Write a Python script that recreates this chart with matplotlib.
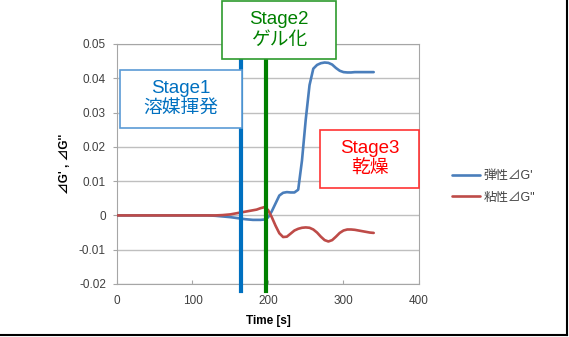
import matplotlib
matplotlib.use("Agg")
import matplotlib.pyplot as plt
from matplotlib.patches import Rectangle
from matplotlib.lines import Line2D

plt.rcParams['font.family'] = ['Liberation Sans', 'Noto Sans CJK JP', 'DejaVu Sans']

# data
time = [0, 10, 20, 30, 40, 50, 60, 70, 80, 90, 100, 110, 120, 130, 140, 150, 160, 170, 180,
        185, 190, 195, 200, 205, 210, 215, 220, 225, 230, 235, 240, 245, 250, 255, 260,
        265, 270, 275, 280, 285, 290, 295, 300, 305, 310, 315, 320, 325, 330, 335, 340]
g_elastic = [0, 0, 0, 0, 0, 0, 0, 0, 0, 0, 0, 0, 0, -0.0001, -0.0003, -0.0005, -0.0008, -0.0011, -0.0013,
             -0.0013, -0.0013, -0.0012, -0.0006, 0.0012, 0.0035, 0.0058, 0.0066, 0.0068, 0.0067,
             0.0067, 0.0075, 0.016, 0.028, 0.038, 0.0428, 0.0439, 0.0444, 0.0446, 0.0445,
             0.0440, 0.0430, 0.0422, 0.0418, 0.0417, 0.0417, 0.0418, 0.0418, 0.0418, 0.0418,
             0.0418, 0.0418]
g_viscous = [0, 0, 0, 0, 0, 0, 0, 0, 0, 0, 0, 0, 0, 0, 0.0001, 0.0003, 0.0007, 0.0011, 0.0015,
             0.0017, 0.0021, 0.0024, 0.0016, -0.0005, -0.0030, -0.0052, -0.0063, -0.0062, -0.0053,
             -0.0044, -0.0039, -0.0036, -0.0035, -0.0036, -0.0041, -0.0050, -0.0062, -0.0072,
             -0.0076, -0.0072, -0.0062, -0.0051, -0.0044, -0.0041, -0.0041, -0.0042, -0.0044,
             -0.0046, -0.0048, -0.0050, -0.0051]
labels = ["弾性⊿G'", "粘性⊿G\""]
stage_times = [164, 197]
stages = [("Stage1\n溶媒揮発", "#0070C0", "#5B9BD5"),
          ("Stage2\nゲル化", "#008000", "#2E9B2E"),
          ("Stage3\n乾燥", "#FF0000", "#FF3333")]

W, H = 569, 337
fig = plt.figure(figsize=(W / 100, H / 100), dpi=100)
ax = fig.add_axes([117 / W, 1 - 284 / H, 302 / W, 240 / H])

ax.plot(time, g_elastic, color='#4A7EBB', lw=1.9, label=labels[0], zorder=3,
        solid_joinstyle='round', solid_capstyle='round')
ax.plot(time, g_viscous, color='#BE4B48', lw=1.9, label=labels[1], zorder=3,
        solid_joinstyle='round', solid_capstyle='round')

ax.set_xlim(0, 400)
ax.set_ylim(-0.02, 0.05)
ax.set_xticks([0, 100, 200, 300, 400])
ax.set_yticks([-0.02, -0.01, 0, 0.01, 0.02, 0.03, 0.04, 0.05])
ax.set_yticklabels(['-0.02', '-0.01', '0', '0.01', '0.02', '0.03', '0.04', '0.05'])
ax.grid(axis='y', color='#BFBFBF', lw=1)
ax.set_axisbelow(True)
for s in ax.spines.values():
    s.set_color('#A6A6A6')
ax.tick_params(axis='y', direction='out', length=3, color='#A6A6A6',
               labelsize=8.5, labelcolor='#404040', pad=5)
ax.tick_params(axis='x', direction='in', length=3, color='#A6A6A6',
               labelsize=8.5, labelcolor='#404040', pad=8)
ax.set_xlabel('Time [s]', fontsize=8.5, fontweight='bold', labelpad=6)
ax.set_ylabel("⊿G' , ⊿G''", fontsize=8.5, fontweight='bold', labelpad=6)

# stage lines
ax.axvline(stage_times[0], ymin=-0.03, ymax=1.06, color='#0070C0', lw=3, clip_on=False, zorder=4)
ax.axvline(stage_times[1], ymin=-0.03, ymax=1.06, color='#008000', lw=3, clip_on=False, zorder=4)

# stage boxes (figure pixels: x0, y0 top, x1, y1 bottom)
boxes = [(120, 70, 242, 128), (222, 1, 336, 59), (320, 130, 419, 188)]
for (txt, tc, ec), (x0, y0, x1, y1) in zip(stages, boxes):
    fig.add_artist(Rectangle((x0 / W, 1 - y1 / H), (x1 - x0) / W, (y1 - y0) / H,
                             transform=fig.transFigure, facecolor='white',
                             edgecolor=ec, lw=1.2, zorder=5))
    fig.text((x0 + x1) / 2 / W, 1 - (y0 + y1) / 2 / H, txt, color=tc, fontsize=13.5,
             ha='center', va='center', linespacing=1.25, zorder=6)

fig.legend(loc='center left', bbox_to_anchor=(441 / W, 1 - 187 / H), frameon=False,
           fontsize=9, handlelength=2.2, handletextpad=0.3, labelspacing=0.75,
           labelcolor='#404040')

# outer frame (right and bottom edge)
fig.add_artist(Line2D([567 / W, 567 / W], [1 - 335 / H, 1], color='black', lw=1.5))
fig.add_artist(Line2D([0, 567 / W], [1 - 335 / H, 1 - 335 / H], color='black', lw=1.5))

fig.savefig('out.png', dpi=100)
